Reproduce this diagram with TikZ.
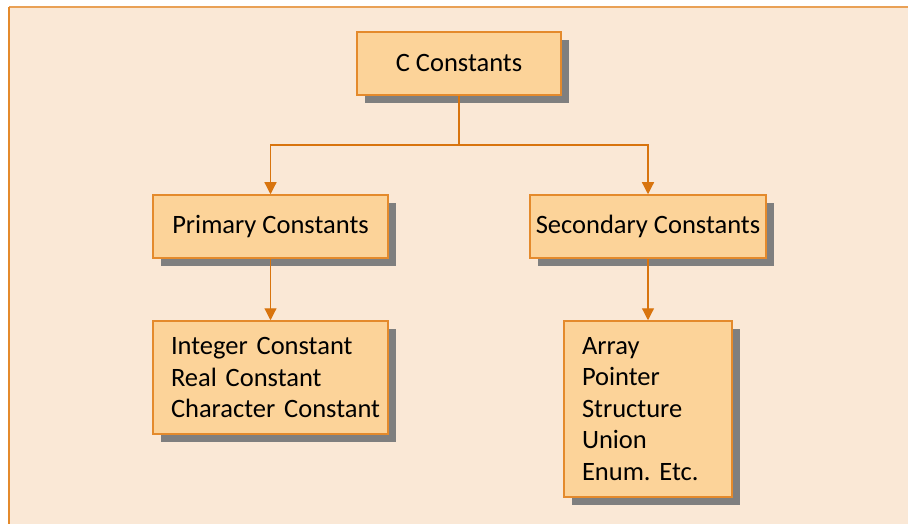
\documentclass[tikz,border=0pt]{standalone}
\usepackage{fontspec}
\setmainfont{Carlito}
\usetikzlibrary{arrows.meta,shadows}
\definecolor{bgfill}{HTML}{FAE8D6}
\definecolor{boxfill}{HTML}{FCD399}
\definecolor{boxline}{HTML}{E48A2C}
\definecolor{conn}{HTML}{D8740E}
\definecolor{shade}{HTML}{7F7F7F}
\tikzset{
  cbox/.style={draw=boxline, line width=1.5pt, fill=boxfill, inner sep=0pt,
    font=\fontsize{26.5}{31.5}\selectfont\frenchspacing,
    drop shadow={shadow xshift=8pt, shadow yshift=-8pt, fill=shade, opacity=1}},
  listbox/.style={cbox, align=left, inner xsep=18pt},
  conline/.style={draw=conn, line width=1.2pt},
  conarrow/.style={conline, -{Triangle[width=12pt,length=12pt]}, color=conn}
}
\begin{document}
\begin{tikzpicture}[x=1pt,y=-1pt]
\useasboundingbox (0,0) rectangle (908,524);
\fill[white] (0,0) rectangle (908,524);
\fill[bgfill] (9,7) rectangle (908,524);
\draw[boxline!80!white, line width=1.6pt] (908,7) -- (9,7);
\draw[boxline, line width=1.2pt] (9,524) -- (9,7);
\node[cbox, minimum width=204pt, minimum height=63pt] (c) at (459,63.5) {C Constants};
\node[cbox, minimum width=235pt, minimum height=63pt] (p) at (270.5,226.5) {Primary Constants};
\node[cbox, minimum width=236pt, minimum height=63pt] (s) at (648,226.5) {Secondary Constants};
\node[listbox, text width=199pt, minimum height=113pt] (i) at (270.5,377.5) {\mbox{Integer Constant}\\\mbox{Real Constant}\\\mbox{Character Constant}};
\node[listbox, text width=132pt, minimum height=176pt] (a) at (648,409) {\mbox{Array}\\\mbox{Pointer}\\\mbox{Structure}\\\mbox{Union}\\\mbox{Enum. Etc.}};
\coordinate (j) at (459,145);
\draw[conline] (c.south) -- (j);
\draw[conarrow] (j) -| (p.north);
\draw[conarrow] (j) -| (s.north);
\draw[conarrow] (p.south) -- (i.north);
\draw[conarrow] (s.south) -- (a.north);
\end{tikzpicture}
\end{document}
